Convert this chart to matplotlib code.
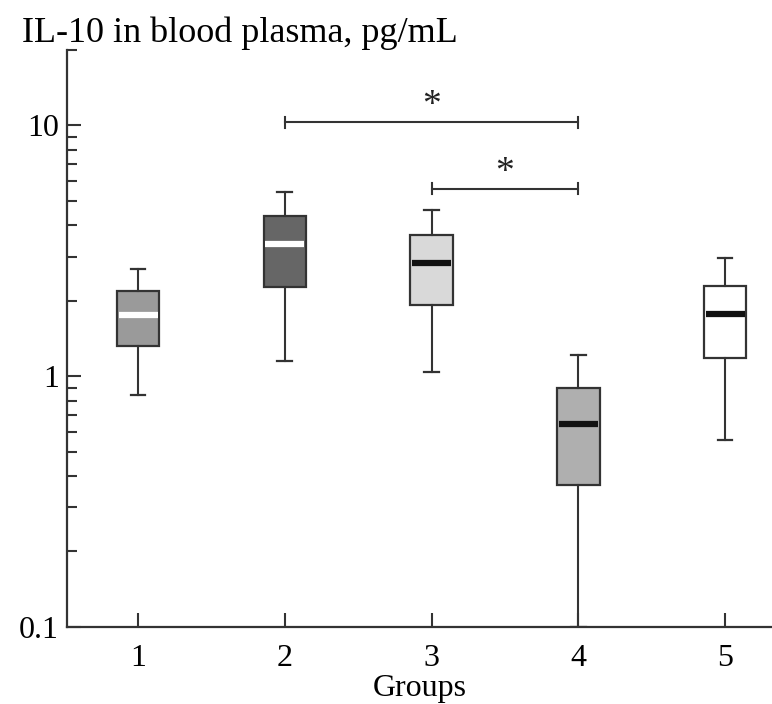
import matplotlib
matplotlib.use("Agg")
import matplotlib.pyplot as plt
from matplotlib.ticker import LogLocator, NullFormatter, FixedLocator, FixedFormatter

plt.rcParams['font.family'] = ['Liberation Serif', 'DejaVu Serif']

groups = [1, 2, 3, 4, 5]
whisker_low = [0.84, 1.15, 1.04, 0.1, 0.556]
q1 = [1.32, 2.26, 1.93, 0.368, 1.18]
median = [1.75, 3.36, 2.82, 0.644, 1.77]
q3 = [2.18, 4.34, 3.65, 0.896, 2.30]
whisker_high = [2.67, 5.41, 4.59, 1.21, 2.95]
box_colors = ['#9a9a9a', '#666666', '#d9d9d9', '#afafaf', '#ffffff']
median_colors = ['#ffffff', '#ffffff', '#111111', '#111111', '#111111']

brackets = [(2, 4, 10.3), (3, 4, 5.6)]
ytick_vals = [0.1, 1, 10]
ytick_labels = ['0.1', '1', '10']

fig = plt.figure(figsize=(7.72, 7.04), dpi=100)
ax = fig.add_axes([0.0868, 0.1094, 0.9132, 0.8196])

stats = []
for i, g in enumerate(groups):
    stats.append(dict(med=median[i], q1=q1[i], q3=q3[i],
                      whislo=whisker_low[i], whishi=whisker_high[i], fliers=[]))

edge = '#333333'
bp = ax.bxp(stats, positions=groups, widths=0.29, patch_artist=True,
            showfliers=False, capwidths=0.1,
            boxprops=dict(linewidth=1.6, edgecolor=edge),
            whiskerprops=dict(linewidth=1.5, color=edge),
            capprops=dict(linewidth=1.6, color=edge),
            medianprops=dict(linewidth=4.5))
for patch, c in zip(bp['boxes'], box_colors):
    patch.set_facecolor(c)
for med, c in zip(bp['medians'], median_colors):
    med.set_color(c)
    med.set_solid_capstyle('butt')
    x = med.get_xdata()
    med.set_xdata([x[0] + 0.012, x[1] - 0.012])

ax.set_yscale('log')
ax.set_ylim(0.1, 20)
ax.set_xlim(0.516, 5.32)

ax.yaxis.set_major_locator(FixedLocator(ytick_vals))
ax.yaxis.set_major_formatter(FixedFormatter(ytick_labels))
ax.yaxis.set_minor_locator(LogLocator(base=10, subs=range(2, 10)))
ax.yaxis.set_minor_formatter(NullFormatter())
ax.set_xticks(groups)
ax.set_xticklabels([str(g) for g in groups])

for s in ['top', 'right']:
    ax.spines[s].set_visible(False)
for s in ['left', 'bottom']:
    ax.spines[s].set_linewidth(1.6)
    ax.spines[s].set_color(edge)

ax.tick_params(axis='both', which='major', direction='in', length=10, width=1.5,
               color=edge, labelsize=23, pad=6)
ax.tick_params(axis='y', which='minor', direction='in', length=7, width=1.5, color=edge)
ax.tick_params(axis='x', which='major', pad=12)

for x0, x1, y in brackets:
    ax.plot([x0, x1], [y, y], color=edge, linewidth=1.5)
    for xe in (x0, x1):
        ax.plot([xe, xe], [y / 1.05, y * 1.05], color=edge, linewidth=1.5)
    ax.text((x0 + x1) / 2, y * 0.99, '*', ha='center', va='bottom', fontsize=27,
            color='#222222')

ax.set_xlabel('Groups', fontsize=23, labelpad=1)
fig.text(0.028, 0.953, 'IL-10 in blood plasma, pg/mL', fontsize=26, ha='left', va='center')

fig.savefig('out.png', dpi=100)
